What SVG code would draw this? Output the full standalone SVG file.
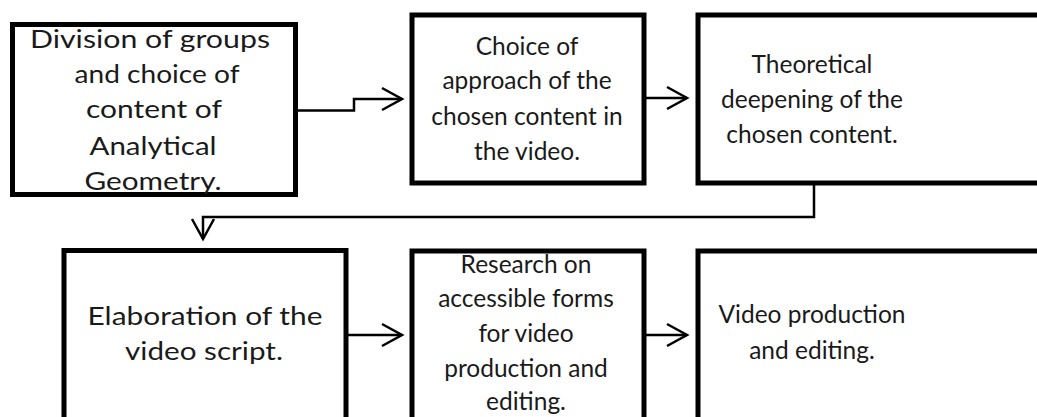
<svg xmlns="http://www.w3.org/2000/svg" width="1037" height="417" viewBox="0 0 1037 417">
<defs>
<style>
.box{fill:#fff;stroke:#000;stroke-width:5}
.lbl{font-family:Lato,"Open Sans",sans-serif;font-size:24.5px;fill:#1a1a1a;text-anchor:middle}
.wide{font-size:25px}
.con{fill:none;stroke:#000;stroke-width:2.5}
</style>
<marker id="arr" viewBox="-22 -13 24 26" refX="0" refY="0" markerWidth="24" markerHeight="26" markerUnits="userSpaceOnUse" orient="auto" overflow="visible">
<path d="M-20,-11 L0,0 L-20,11" fill="none" stroke="#000" stroke-width="2.5"/>
</marker>
</defs>
<rect width="1037" height="417" fill="#fff"/>
<g id="connectors">
<path class="con" d="M296,110.5 H354 V99 H402" marker-end="url(#arr)"/>
<path class="con" d="M644,98 H687" marker-end="url(#arr)"/>
<path class="con" d="M814,183 V217 H203 V239" marker-end="url(#arr)"/>
<path class="con" d="M347,335 H402" marker-end="url(#arr)"/>
<path class="con" d="M644,335 H687" marker-end="url(#arr)"/>
</g>
<g id="n1">
<rect class="box" x="12.5" y="24.5" width="283" height="170"/>
<text class="lbl wide" lengthAdjust="spacingAndGlyphs"><tspan x="150" y="48" textLength="240" lengthAdjust="spacingAndGlyphs">Division of groups</tspan></text>
<text class="lbl wide"><tspan x="157" y="83" textLength="165" lengthAdjust="spacingAndGlyphs">and choice of</tspan></text>
<text class="lbl wide"><tspan x="154" y="118" textLength="136" lengthAdjust="spacingAndGlyphs">content of</tspan></text>
<text class="lbl wide"><tspan x="153" y="155" textLength="127" lengthAdjust="spacingAndGlyphs">Analytical</tspan></text>
<text class="lbl wide"><tspan x="153" y="190" textLength="137" lengthAdjust="spacingAndGlyphs">Geometry.</tspan></text>
</g>
<g id="n2">
<rect class="box" x="412" y="15" width="232" height="168"/>
<text class="lbl"><tspan x="527" y="55">Choice of</tspan><tspan x="527" y="89">approach of the</tspan><tspan x="527" y="125">chosen content in</tspan><tspan x="527" y="160">the video.</tspan></text>
</g>
<g id="n3">
<rect class="box" x="698" y="15" width="400" height="168"/>
<text class="lbl"><tspan x="812" y="73">Theoretical</tspan><tspan x="812" y="108">deepening of the</tspan><tspan x="812" y="143">chosen content.</tspan></text>
</g>
<g id="n4">
<rect class="box" x="64" y="250.5" width="282" height="200"/>
<text class="lbl wide"><tspan x="205" y="325" textLength="235" lengthAdjust="spacingAndGlyphs">Elaboration of the</tspan></text>
<text class="lbl wide"><tspan x="204" y="360" textLength="158" lengthAdjust="spacingAndGlyphs">video script.</tspan></text>
</g>
<g id="n5">
<rect class="box" x="412" y="251" width="232" height="200"/>
<text class="lbl"><tspan x="526" y="273">Research on</tspan><tspan x="526" y="307">accessible forms</tspan><tspan x="526" y="342">for video</tspan><tspan x="526" y="377">production and</tspan><tspan x="526" y="410">editing.</tspan></text>
</g>
<g id="n6">
<rect class="box" x="698" y="251" width="400" height="200"/>
<text class="lbl"><tspan x="812" y="323">Video production</tspan><tspan x="812" y="359">and editing.</tspan></text>
</g>
</svg>
